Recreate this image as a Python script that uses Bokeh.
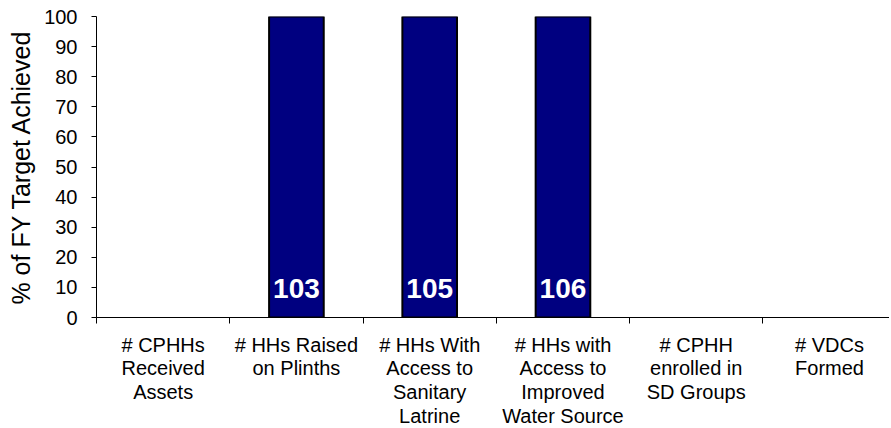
from bokeh.plotting import figure
from bokeh.models import Range1d, FixedTicker, ColumnDataSource
from bokeh.embed import file_html
from bokeh.resources import INLINE
from bokeh.core.properties import value

categories = [
    "# CPHHs\nReceived\nAssets",
    "# HHs Raised\non Plinths",
    "# HHs With\nAccess to\nSanitary\nLatrine",
    "# HHs with\nAccess to\nImproved\nWater Source",
    "# CPHH\nenrolled in\nSD Groups",
    "# VDCs\nFormed",
]
values = [None, 103, 105, 106, None, None]
y_ticks = [0, 10, 20, 30, 40, 50, 60, 70, 80, 90, 100]

n = len(categories)
centers = [i + 0.5 for i in range(n)]
bounds = list(range(n + 1))
vals = [float("nan") if v is None else v for v in values]
labels = ["" if v is None else str(v) for v in values]

src = ColumnDataSource(dict(x=centers, top=vals, lab=labels, base=[0] * n))

FONT = "Liberation Sans"

p = figure(frame_width=793, frame_height=301, output_backend="svg", toolbar_location=None,
           x_range=Range1d(0, 5.95), y_range=Range1d(0, 100),
           min_border_left=96, min_border_right=0, min_border_top=16, min_border_bottom=0)
p.title.visible = False
p.outline_line_color = None
p.xgrid.visible = False
p.ygrid.visible = False
p.background_fill_color = "white"
p.border_fill_color = "white"

p.vbar(x="x", top="top", width=0.41, source=src, fill_color="#000080",
       line_color="black", line_width=2)
p.text(x="x", y="base", text="lab", source=src, text_color="white",
       text_font=value(FONT), y_offset=-29, text_align="center",
       text_baseline="middle", text_font_size="28px", text_font_style="bold")

# x axis
xa = p.xaxis[0]
xa.ticker = FixedTicker(ticks=centers, minor_ticks=bounds)
xa.major_label_overrides = {c: lab for c, lab in zip(centers, categories)}
xa.major_tick_line_color = None
xa.major_tick_out = 0
xa.major_tick_in = 0
xa.minor_tick_out = 6
xa.minor_tick_in = 0
xa.minor_tick_line_color = "black"
xa.axis_line_color = "black"
xa.major_label_standoff = 10
xa.major_label_text_font_size = "20px"
xa.major_label_text_line_height = 1.09
xa.major_label_text_font = FONT
xa.major_label_text_color = "black"

# y axis
ya = p.yaxis[0]
ya.ticker = FixedTicker(ticks=y_ticks, minor_ticks=[])
ya.major_tick_out = 5
ya.major_tick_in = 0
ya.major_tick_line_color = "black"
ya.axis_line_color = "black"
ya.major_label_standoff = 14
ya.major_label_text_font_size = "20px"
ya.major_label_text_font = FONT
ya.major_label_text_color = "black"
ya.axis_label = "% of FY Target Achieved"
ya.axis_label_text_font = FONT
ya.axis_label_text_font_size = "25px"
ya.axis_label_text_font_style = "normal"
ya.axis_label_text_color = "black"
ya.axis_label_standoff = 6

open("out.html", "w").write(file_html(p, INLINE))
